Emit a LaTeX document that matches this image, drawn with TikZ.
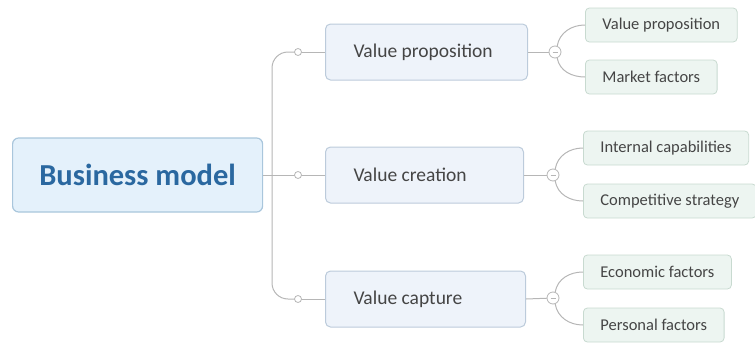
\documentclass[tikz,border=0pt]{standalone}
\usepackage{fontspec}
\setmainfont{Carlito}
\usetikzlibrary{calc}
\usetikzlibrary{positioning}

\definecolor{rootfill}{HTML}{E4F1FB}
\definecolor{rootline}{HTML}{A9C6DC}
\definecolor{roottext}{HTML}{2A68A0}
\definecolor{mainfill}{HTML}{EEF3FA}
\definecolor{mainline}{HTML}{BCCBDB}
\definecolor{subfill}{HTML}{EDF5F1}
\definecolor{subline}{HTML}{C8DAD0}
\definecolor{labeltext}{HTML}{454545}
\definecolor{branch}{HTML}{B6B6B6}

\tikzset{
  rootbox/.style={draw=rootline,fill=rootfill,rounded corners=6pt,line width=1.2pt,
    minimum width=250pt,minimum height=74pt,anchor=west,text=roottext,
    font=\fontsize{30.5}{30.5}\selectfont\bfseries},
  mainbox/.style={draw=mainline,fill=mainfill,rounded corners=5pt,line width=1pt,
    minimum height=56pt,anchor=west,text width=146pt,inner xsep=28pt,align=flush left,
    text=labeltext,font=\fontsize{19.5}{19.5}\selectfont},
  subbox/.style={draw=subline,fill=subfill,rounded corners=4pt,line width=0.8pt,
    minimum height=34pt,anchor=west,inner xsep=17pt,text=labeltext,
    font=\fontsize{16.5}{16.5}\selectfont},
  knob/.style={circle,draw=branch,fill=white,line width=0.8pt,inner sep=0pt,minimum size=7pt},
  fold/.style={circle,draw=branch,fill=white,line width=0.8pt,inner sep=0pt,minimum size=12pt,
    path picture={\draw [branch,line width=0.8pt]
      ([xshift=-2.5pt]path picture bounding box.center) --
      ([xshift=2.5pt]path picture bounding box.center);}},
  branchline/.style={draw=branch,line width=1pt}
}

\begin{document}
\begin{tikzpicture}[x=1pt,y=-1pt]

  \useasboundingbox (0,0) rectangle (755,343);

  % trunk behind everything else
  \coordinate (trunk_top) at (272,52);
  \coordinate (trunk_bot) at (272,299);
  \draw [branchline,rounded corners=16pt] (298,52) -- (trunk_top) -- (trunk_bot) -- (298,299);

  \node [rootbox] (root) at (12,175) {Business model};

  \node [mainbox] (prop)  at (325,52)  {Value proposition};
  \node [mainbox,text width=142pt] (creat) at (325,175) {Value creation};
  \node [mainbox,text width=144pt] (capt)  at (325,299) {Value capture};

  \node [subbox] (s_prop)   at (585,25)  {Value proposition};
  \node [subbox] (s_market) at (585,77)  {Market factors};
  \node [subbox] (s_intern) at (583,148) {Internal capabilities};
  \node [subbox] (s_compet) at (583,201) {Competitive strategy};
  \node [subbox] (s_econ)   at (583,272) {Economic factors};
  \node [subbox] (s_person) at (583,325) {Personal factors};

  \path [branchline]
    (root.east) edge (creat.west)
    (298,52)    edge (prop.west)
    (298,299)   edge (capt.west)
    (prop.east)  edge (555,52)
    (creat.east) edge (553,175)
    (capt.east)  edge (553,298);

  \node [knob] (k_prop)  at (298,52)  {};
  \node [knob] (k_creat) at (298,175) {};
  \node [knob] (k_capt)  at (298,299) {};

  \node [fold] (f_prop)  at (555,52)  {};
  \node [fold] (f_creat) at (553,175) {};
  \node [fold] (f_capt)  at (553,298) {};

  \path [branchline]
    (f_prop.70)   edge [out=80,in=180]  (s_prop.west)
    (f_prop.-70)  edge [out=-80,in=180] (s_market.west)
    (f_creat.70)  edge [out=80,in=180]  (s_intern.west)
    (f_creat.-70) edge [out=-80,in=180] (s_compet.west)
    (f_capt.70)   edge [out=80,in=180]  (s_econ.west)
    (f_capt.-70)  edge [out=-80,in=180] (s_person.west);

\end{tikzpicture}
\end{document}
